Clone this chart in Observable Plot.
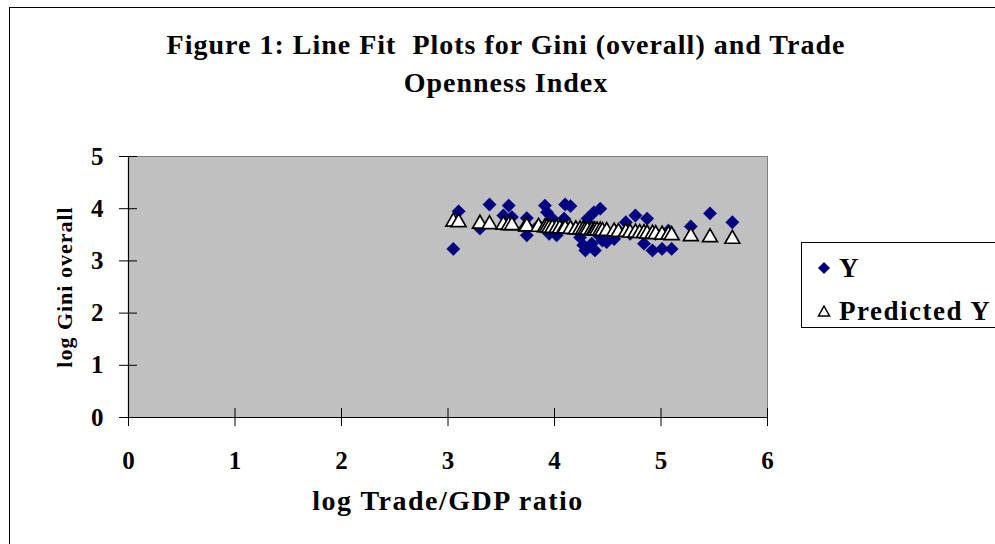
<!DOCTYPE html>
<html>
<head>
<meta charset="utf-8">
<script src="https://cdn.jsdelivr.net/npm/d3@7"></script>
<script src="https://cdn.jsdelivr.net/npm/@observablehq/plot@0.6"></script>
<style>
  html, body { margin: 0; padding: 0; background: #fff; }
  #wrap { position: relative; width: 995px; height: 544px; overflow: hidden; font-family: "Liberation Serif", "Times New Roman", serif; font-weight: bold; }
  #border { position: absolute; left: 9px; top: 7px; width: 1000px; height: 600px; border: 1px solid #000; box-sizing: border-box; }
  #title { position: absolute; left: 18px; width: 976px; top: 26px; text-align: center; font-size: 28px; letter-spacing: 1px; line-height: 38px; color: #000; }
  #chart { position: absolute; left: 0; top: 0; }
  #chart svg text { font-weight: bold; }
  #legend { position: absolute; left: 801px; top: 242px; width: 220px; height: 86px; border: 1px solid #000; box-sizing: border-box; background: #fff; font-size: 27px; letter-spacing: 1.5px; }
  .li { position: absolute; left: 0; display: flex; align-items: center; height: 30px; }
  .li svg { margin-left: 15px; margin-right: 8px; }
</style>
</head>
<body>
<div id="wrap">
  <div id="border"></div>
  <div id="title">Figure 1: Line Fit&nbsp; Plots for Gini (overall) and Trade<br>Openness Index</div>
  <div id="chart"></div>
  <div id="legend">
    <div class="li" style="top:10px"><svg width="14" height="14"><path d="M7,1L13,7L7,13L1,7Z" fill="#000080"/></svg><span>Y</span></div>
    <div class="li" style="top:53px"><svg width="14" height="14"><path d="M7,2L12.5,12L1.5,12Z" fill="#fff" stroke="#000" stroke-width="1.5"/></svg><span>Predicted Y</span></div>
  </div>
</div>
<script>
// log Trade/GDP ratio
const tradeX = [3.05,3.10,3.30,3.39,3.52,3.57,3.60,3.73,3.74,3.74,3.85,3.91,3.93,3.95,3.98,4.02,4.05,4.09,4.10,4.15,4.20,4.24,4.27,4.29,4.31,4.35,4.37,4.38,4.40,4.43,4.45,4.49,4.56,4.60,4.67,4.71,4.76,4.80,4.84,4.87,4.92,4.95,5.01,5.07,5.10,5.28,5.46,5.67];
// observed log Gini overall (Y)
const giniY = [3.23,3.95,3.62,4.08,3.87,4.06,3.84,3.65,3.49,3.82,3.68,4.06,3.93,3.52,3.81,3.49,3.60,3.81,4.08,4.05,3.62,3.45,3.30,3.20,3.81,3.33,3.93,3.20,3.52,4.00,3.39,3.36,3.42,3.58,3.74,3.52,3.87,3.55,3.33,3.81,3.20,3.52,3.23,3.58,3.23,3.66,3.91,3.74];
// predicted Y
const predY = [3.75,3.74,3.71,3.70,3.69,3.68,3.68,3.66,3.66,3.66,3.65,3.64,3.64,3.63,3.63,3.63,3.62,3.62,3.62,3.61,3.60,3.60,3.60,3.59,3.59,3.59,3.58,3.58,3.58,3.58,3.57,3.57,3.56,3.55,3.55,3.54,3.54,3.53,3.53,3.52,3.52,3.51,3.50,3.50,3.49,3.47,3.45,3.42];
const xTicks = [0,1,2,3,4,5,6];
const yTicks = [0,1,2,3,4,5];

const obs = tradeX.map((x, i) => ({x, y: giniY[i]}));
const pred = tradeX.map((x, i) => ({x, y: predY[i]}));

const font = '"Liberation Serif", "Times New Roman", serif';

const chart = Plot.plot({
  width: 995,
  height: 544,
  marginLeft: 128,
  marginRight: 228,
  marginTop: 156,
  marginBottom: 127,
  style: { fontFamily: font, fontWeight: "bold", fontSize: "25px", background: "transparent", overflow: "visible" },
  x: { domain: [0, 6] },
  y: { domain: [0, 5] },
  marks: [
    Plot.frame({ fill: "#c0c0c0", stroke: "#808080" }),
    Plot.ruleY([0], { stroke: "#000", strokeWidth: 1.2 }),
    Plot.ruleX([0], { stroke: "#000", strokeWidth: 1.2 }),
    Plot.axisX(xTicks, { tickSize: 9, tickPadding: 25, tickFormat: "d", stroke: "#000", fill: "#000", label: "log Trade/GDP ratio", labelAnchor: "center", labelOffset: 92, labelArrow: "none", fontSize: 25 }),
    Plot.axisX(xTicks, { tickSize: 9, dy: -9, text: null, label: null, stroke: "#000" }),
    Plot.axisY(yTicks, { tickSize: 9, tickPadding: 16, tickFormat: "d", stroke: "#000", fill: "#000", label: "log Gini overall", labelAnchor: "center", labelOffset: 72, labelArrow: "none", fontSize: 25 }),
    Plot.axisY(yTicks, { tickSize: 9, dx: 9, text: null, label: null, stroke: "#000" }),
    Plot.dot(obs, { x: "x", y: "y", symbol: "diamond2", r: 6, fill: "#000080", stroke: "#000080", strokeWidth: 0.5 }),
    Plot.dot(pred, { x: "x", y: "y", symbol: "triangle", r: 5.5, fill: "#fff", stroke: "#000", strokeWidth: 1.7 })
  ]
});
// axis typography
d3.select(chart).selectAll("text").style("font-weight", "bold");
d3.select(chart).selectAll('g[aria-label="x-axis label"] text').style("font-size", "28px").style("letter-spacing", "1.5px");
d3.select(chart).selectAll('g[aria-label="y-axis label"] text').style("font-size", "22px").style("letter-spacing", "1px");
document.getElementById("chart").appendChild(chart);
</script>
</body>
</html>
